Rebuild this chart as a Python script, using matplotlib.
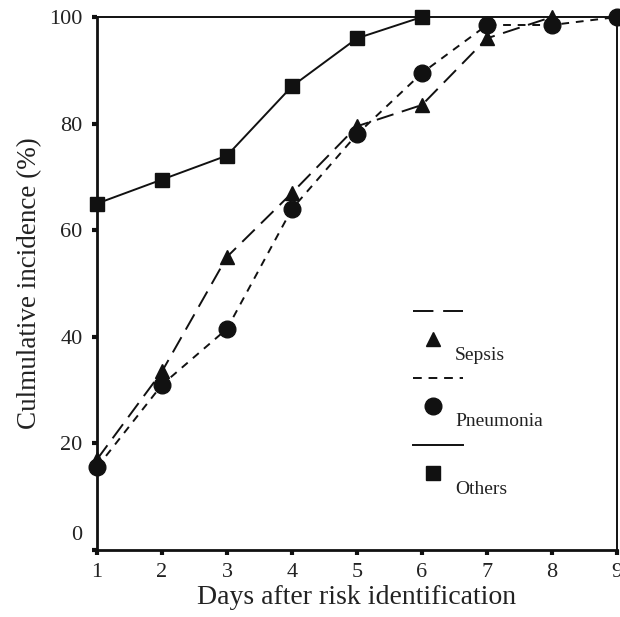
import matplotlib
matplotlib.use("Agg")
import matplotlib.pyplot as plt
import matplotlib.transforms as mtransforms

days_sepsis = [1, 2, 3, 4, 5, 6, 7, 8]
sepsis = [17, 33.5, 55, 67, 79.5, 83.5, 96, 100]
days_pneu = [1, 2, 3, 4, 5, 6, 7, 8, 9]
pneumonia = [15.5, 31, 41.5, 64, 78, 89.5, 98.5, 98.5, 100]
days_others = [1, 2, 3, 4, 5, 6]
others = [65, 69.5, 74, 87, 96, 100]
xticks = [1, 2, 3, 4, 5, 6, 7, 8, 9]
yticks = [0, 20, 40, 60, 80, 100]
labels = ["Sepsis", "Pneumonia", "Others"]

plt.rcParams['font.family'] = ['Liberation Serif', 'DejaVu Serif']

W, H = 620, 617
fig = plt.figure(figsize=(W / 100, H / 100), dpi=100)
left, right, top, bottom = 97, 617, 17, 550
ax = fig.add_axes([left / W, 1 - bottom / H, (right - left) / W, (bottom - top) / H])

col = '#111111'
ax.plot(days_sepsis, sepsis, color=col, lw=1.4, dashes=(9, 4.5), marker='^', ms=9.5,
        clip_on=False, zorder=3)
ax.plot(days_pneu, pneumonia, color=col, lw=1.4, dashes=(4, 3.5), marker='o', ms=12,
        clip_on=False, zorder=4)
ax.plot(days_others, others, color=col, lw=1.4, ls='-', marker='s', ms=9.5,
        clip_on=False, zorder=3)

ax.set_xlim(1, 9)
ax.set_ylim(0, 100)
ax.set_xticks(xticks)
ax.set_yticks(yticks)
ax.tick_params(axis='both', direction='out', length=3.5, width=3, colors=col,
               labelsize=16, labelcolor='#222222')
ax.tick_params(axis='x', pad=6)
ax.tick_params(axis='y', pad=7)

for side in ['left', 'bottom']:
    ax.spines[side].set_linewidth(2.0)
for side in ['top', 'right']:
    ax.spines[side].set_linewidth(1.4)
for s in ax.spines.values():
    s.set_color(col)

# raise the "0" label like the reference
fig.canvas.draw()
lab0 = ax.get_yticklabels()[0]
lab0.set_transform(lab0.get_transform() + mtransforms.ScaledTranslation(0, 17 / 100, fig.dpi_scale_trans))

ax.set_xlabel("Days after risk identification", fontsize=20, color='#222222', labelpad=2)
ax.set_ylabel("Culmulative incidence (%)", fontsize=19.5, color='#222222', labelpad=5)

# legend drawn in the reference's stacked layout
def px(x, y):
    return ((x - left) / (right - left), (bottom - y) / (bottom - top))

styles = [dict(dashes=(10.5, 5)), dict(dashes=(4.5, 3.5)), dict(ls='-')]
markers = [('^', 9.5), ('o', 12), ('s', 9.5)]
line_y = [311, 378, 445]
for i, lab in enumerate(labels):
    y0 = line_y[i]
    (x1, yy), (x2, _) = px(413, y0), px(463, y0)
    ax.plot([x1, x2], [yy, yy], transform=ax.transAxes, color=col, lw=1.4, **styles[i])
    mx, my = px(433, y0 + 28)
    ax.plot([mx], [my], transform=ax.transAxes, color=col, marker=markers[i][0],
            ms=markers[i][1], ls='none')
    tx, ty = px(455, y0 + 44)
    ax.text(tx, ty, lab, transform=ax.transAxes, fontsize=14, color='#222222',
            ha='left', va='center')

fig.savefig("out.png", dpi=100)
